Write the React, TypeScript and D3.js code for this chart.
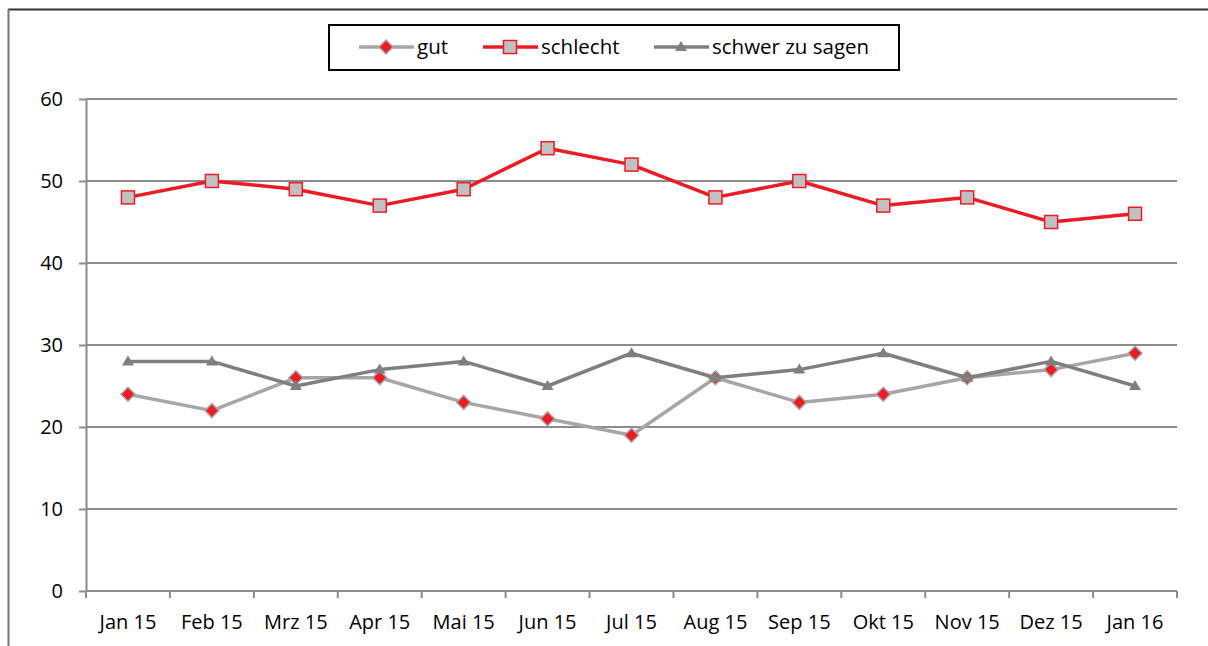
import React, { useEffect, useRef } from "react";
import * as d3 from "d3";

const months = [
  "Jan 15", "Feb 15", "Mrz 15", "Apr 15", "Mai 15", "Jun 15", "Jul 15",
  "Aug 15", "Sep 15", "Okt 15", "Nov 15", "Dez 15", "Jan 16",
];
const gut = [24, 22, 26, 26, 23, 21, 19, 26, 23, 24, 26, 27, 29];
const schlecht = [48, 50, 49, 47, 49, 54, 52, 48, 50, 47, 48, 45, 46];
const schwer = [28, 28, 25, 27, 28, 25, 29, 26, 27, 29, 26, 28, 25];
const yTicks = [0, 10, 20, 30, 40, 50, 60];

const seriesList = [
  { name: "gut", values: gut, line: "#a6a6a6", marker: "diamond" },
  { name: "schlecht", values: schlecht, line: "#ed1c24", marker: "square" },
  { name: "schwer zu sagen", values: schwer, line: "#7f7f7f", marker: "triangle" },
];

const FONT = "'Open Sans', 'Noto Sans', sans-serif";

const App: React.FC = () => {
  const ref = useRef<SVGSVGElement | null>(null);

  useEffect(() => {
    const svg = d3.select(ref.current);
    svg.selectAll("*").remove();

    const W = 1208;
    const H = 646;
    const left = 86;
    const right = 1177;
    const top = 99;
    const bottom = 591;

    svg.attr("width", W).attr("height", H);

    // outer frame (only top and left edges are visible)
    svg.append("line").attr("x1", 8).attr("x2", W).attr("y1", 9.5).attr("y2", 9.5)
      .attr("stroke", "#333").attr("stroke-width", 2);
    svg.append("line").attr("x1", 8.5).attr("x2", 8.5).attr("y1", 9).attr("y2", H)
      .attr("stroke", "#777").attr("stroke-width", 2);

    const x = d3.scaleBand().domain(months).range([left, right]);
    const y = d3.scaleLinear().domain([0, 60]).range([bottom, top]);

    // gridlines
    svg.append("g")
      .selectAll("line")
      .data(yTicks.filter((t) => t > 0))
      .enter()
      .append("line")
      .attr("x1", left).attr("x2", right)
      .attr("y1", (d) => y(d)).attr("y2", (d) => y(d))
      .attr("stroke", "#8c8c8c").attr("stroke-width", 2);

    // y axis
    const yAxis = svg.append("g")
      .attr("transform", `translate(${left},0)`)
      .call(d3.axisLeft(y).tickValues(yTicks).tickSize(7).tickPadding(16).tickSizeOuter(0));
    yAxis.select(".domain").attr("stroke", "#8c8c8c").attr("stroke-width", 2);
    yAxis.selectAll(".tick line").attr("stroke", "#8c8c8c").attr("stroke-width", 2);
    yAxis.selectAll(".tick text")
      .attr("font-family", FONT).attr("font-size", 20).attr("fill", "#000");

    // x axis with ticks at band boundaries
    const xAxis = svg.append("g").attr("transform", `translate(0,${bottom})`);
    xAxis.append("line").attr("x1", left).attr("x2", right).attr("y1", 0).attr("y2", 0)
      .attr("stroke", "#8c8c8c").attr("stroke-width", 2);
    const bounds = months.map((m) => x(m) ?? 0).concat([right]);
    xAxis.selectAll("line.tk")
      .data(bounds)
      .enter()
      .append("line")
      .attr("class", "tk")
      .attr("x1", (d) => d).attr("x2", (d) => d)
      .attr("y1", 0).attr("y2", 7)
      .attr("stroke", "#8c8c8c").attr("stroke-width", 2);
    xAxis.selectAll("text")
      .data(months)
      .enter()
      .append("text")
      .attr("x", (d) => (x(d) ?? 0) + x.bandwidth() / 2)
      .attr("y", 38)
      .attr("text-anchor", "middle")
      .attr("font-family", FONT).attr("font-size", 20).attr("fill", "#000")
      .text((d) => d);

    const drawMarker = (
      g: d3.Selection<SVGGElement, unknown, null, undefined>,
      kind: string,
      cx: number,
      cy: number
    ) => {
      if (kind === "diamond") {
        g.append("path")
          .attr("d", `M${cx},${cy - 7}L${cx + 7},${cy}L${cx},${cy + 7}L${cx - 7},${cy}Z`)
          .attr("fill", "#ed1c24").attr("stroke", "#a6a6a6").attr("stroke-width", 1.5);
      } else if (kind === "square") {
        g.append("rect")
          .attr("x", cx - 6.5).attr("y", cy - 6.5).attr("width", 13).attr("height", 13)
          .attr("fill", "#c0c0c0").attr("stroke", "#ed1c24").attr("stroke-width", 1.5);
      } else {
        g.append("path")
          .attr("d", `M${cx},${cy - 6}L${cx + 6},${cy + 4}L${cx - 6},${cy + 4}Z`)
          .attr("fill", "#7f7f7f");
      }
    };

    const line = d3.line<number>()
      .x((_, i) => (x(months[i]) ?? 0) + x.bandwidth() / 2)
      .y((d) => y(d));

    seriesList.forEach((s) => {
      const g = svg.append("g");
      g.append("path")
        .datum(s.values)
        .attr("d", line)
        .attr("fill", "none")
        .attr("stroke", s.line)
        .attr("stroke-width", 3.5)
        .attr("stroke-linejoin", "round");
      s.values.forEach((v, i) => {
        drawMarker(g, s.marker, (x(months[i]) ?? 0) + x.bandwidth() / 2, y(v));
      });
    });

    // legend
    const lg = svg.append("g");
    lg.append("rect").attr("x", 329).attr("y", 25).attr("width", 570).attr("height", 45)
      .attr("fill", "#fff").attr("stroke", "#000").attr("stroke-width", 2);
    const legendX = [359, 483, 654];
    seriesList.forEach((s, i) => {
      const lx = legendX[i];
      const ly = 47;
      const g = lg.append("g");
      g.append("line").attr("x1", lx).attr("x2", lx + 55).attr("y1", ly).attr("y2", ly)
        .attr("stroke", s.line).attr("stroke-width", 3.5);
      drawMarker(g, s.marker, lx + 27, ly);
      g.append("text")
        .attr("x", lx + 58).attr("y", ly + 7)
        .attr("font-family", FONT).attr("font-size", 20.5).attr("fill", "#000")
        .text(s.name);
    });
  }, []);

  return (
    <svg
      ref={ref}
      style={{ position: "absolute", left: 0, top: 0, background: "#fff" }}
    ></svg>
  );
};

export default App;
